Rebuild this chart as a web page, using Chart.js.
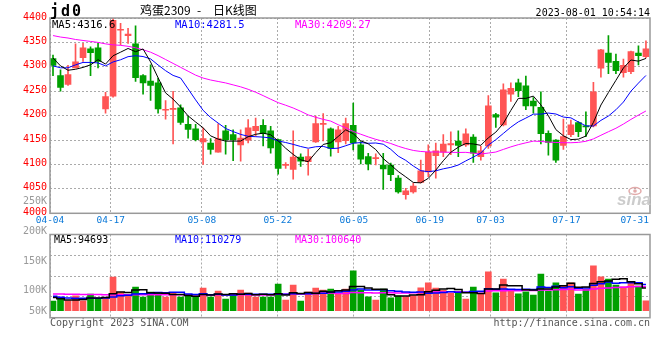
<!DOCTYPE html>
<html>
<head>
<meta charset="utf-8">
<script src="https://cdn.jsdelivr.net/npm/chart.js@4.4.0/dist/chart.umd.min.js"></script>
<style>
  html, body { margin: 0; padding: 0; background: #fff; }
  #wrap { position: relative; width: 660px; height: 360px; }
  canvas { position: absolute; left: 0; top: 0; }
</style>
</head>
<body>
<div id="wrap">
  <canvas id="kChart" width="660" height="360"></canvas>
  <canvas id="volChart" width="660" height="360"></canvas>
</div>
<script>
// ---------- data ----------
var dates = [
  '04-04','04-06','04-07','04-10','04-11','04-12','04-13','04-14','04-17','04-18',
  '04-19','04-20','04-21','04-24','04-25','04-26','04-27','04-28','05-04','05-05',
  '05-08','05-09','05-10','05-11','05-12','05-15','05-16','05-17','05-18','05-19',
  '05-22','05-23','05-24','05-25','05-26','05-29','05-30','05-31','06-01','06-02',
  '06-05','06-06','06-07','06-08','06-09','06-12','06-13','06-14','06-15','06-16',
  '06-19','06-20','06-21','06-26','06-27','06-28','06-29','06-30','07-03','07-04',
  '07-05','07-06','07-07','07-10','07-11','07-12','07-13','07-14','07-17','07-18',
  '07-19','07-20','07-21','07-24','07-25','07-26','07-27','07-28','07-31','08-01'
];
var tickLabels = ['04-04','04-17','05-08','05-22','06-05','06-19','07-03','07-17','07-31'];

var opens = [
  4317,4282,4264,4298,4319,4337,4339,4214,4240,4375, 4364,4347,4282,4271,4267,4211,4213,4216,4182,4173,
  4146,4144,4125,4169,4161,4140,4150,4169,4180,4169, 4151,4098,4090,4115,4106,4146,4182,4173,4146,4149,
  4180,4140,4116,4112,4099,4099,4072,4038,4044,4063, 4085,4118,4125,4140,4148,4140,4156,4116,4138,4202,
  4181,4244,4267,4261,4230,4217,4164,4150,4139,4161, 4186,4179,4179,4297,4328,4311,4288,4290,4328,4321
];
var highs = [
  4324,4294,4303,4347,4348,4341,4348,4248,4400,4389, 4379,4384,4284,4304,4277,4231,4250,4222,4199,4182,
  4175,4153,4183,4180,4171,4171,4192,4195,4192,4178, 4152,4104,4169,4122,4131,4199,4204,4175,4178,4195,
  4226,4147,4123,4122,4123,4103,4077,4051,4062,4109, 4140,4144,4161,4167,4169,4173,4161,4137,4241,4205,
  4265,4267,4275,4281,4237,4249,4169,4151,4193,4191, 4188,4208,4268,4336,4364,4326,4316,4332,4343,4353
];
var lows = [
  4282,4250,4262,4298,4311,4282,4298,4205,4238,4345, 4348,4270,4244,4231,4205,4193,4142,4182,4154,4148,
  4100,4121,4125,4121,4108,4107,4144,4158,4138,4123, 4080,4092,4070,4096,4078,4145,4148,4117,4124,4142,
  4130,4101,4089,4099,4049,4067,4041,4029,4041,4062, 4075,4072,4116,4120,4116,4137,4104,4109,4133,4176,
  4179,4229,4239,4212,4205,4142,4119,4104,4131,4157, 4157,4157,4177,4279,4286,4286,4279,4286,4304,4318
];
var closes = [
  4303,4258,4284,4310,4339,4329,4311,4239,4395,4376, 4367,4278,4267,4262,4214,4212,4214,4186,4172,4151,
  4153,4131,4153,4151,4151,4154,4175,4178,4163,4134, 4092,4099,4115,4107,4116,4184,4183,4133,4171,4184,
  4144,4111,4101,4113,4091,4079,4044,4046,4056,4087, 4125,4128,4142,4143,4139,4163,4123,4128,4220,4197,
  4253,4256,4251,4220,4220,4163,4145,4109,4157,4181, 4167,4177,4249,4335,4309,4292,4303,4331,4323,4337
];
var volumes = [
  40600,49000,42000,63000,42000,70000,47600,54600,141400,78400,
  61600,99400,57400,78400,74200,57400,72800,57400,60200,57400,
  95200,57400,82600,49000,70000,86800,74200,57400,57400,57400,
  112000,44800,107800,40600,78400,95200,86800,91000,70000,91000,
  168000,86800,58800,44800,91000,54600,61600,58800,63000,96600,
  117600,95200,85400,72800,72800,49000,99400,70000,163800,75600,
  133000,82600,71400,79800,65800,154000,82600,117600,105000,117600,
  70000,89600,189000,142800,133000,107800,100800,121800,103600,42000
];

// moving-average values before the window fills (earlier days are off the picture)
var ma5Head = [4318, 4302, 4293, 4295];
var ma10Head = [4302, 4298, 4298, 4304, 4309, 4309, 4308, 4302, 4310];
var ma30Head = [4364,4361,4359,4356,4354,4352,4350,4347,4345,4344,4342,4339,4335,4330,4323,
                4315,4307,4299,4291,4283,4277,4273,4270,4267,4263,4259,4254,4248,4241];
var vma5Head = [56000, 50000, 45000, 45000];
var vma10Head = [61000, 57000, 53000, 52000, 52000, 52000, 52000, 53000, 58000];
var vma30Head = [70000,70000,69000,69000,68000,68000,68000,67000,67000,67000,67000,67000,67000,67000,67000,
                 67000,67000,67000,67000,67000,67000,67000,67000,67000,67000,67000,67000,66500,66500];

var maLabels = ['MA5:4316.6', 'MA10:4281.5', 'MA30:4209.27'];
var volMaLabels = ['MA5:94693', 'MA10:110279', 'MA30:100640'];
var volAxisLabels = ['250K', '200K', '150K', '100K', '50K'];

// ---------- helpers ----------
var UP = '#ff5555', DOWN = '#00a000';
var MA_COLORS = ['#000000', '#0000ff', '#ff00ff'];
var N = dates.length;
var X_MIN = -0.4, X_MAX = N - 1 + 0.54;

function movingAvg(vals, n, head) {
    return vals.map(function(v, i) {
        if (i < n - 1) return head[i];
        var s = 0;
        for (var j = i - n + 1; j <= i; j++) s += vals[j];
        return s / n;
    });
}
function pts(arr) { return arr.map(function(v, i) { return {x: i, y: v}; }); }
// sina spreads its date grid over the full width, not the candle pitch
function gridVal(k) { return X_MIN + k * (X_MAX - X_MIN) / (N - 1); }

var candleColor = closes.map(function(c, i) { return c >= opens[i] ? UP : DOWN; });
var tickIdx = tickLabels.map(function(t) { return dates.indexOf(t); });
var gridTicks = tickIdx.slice(0, -1).map(gridVal);

var ma5 = movingAvg(closes, 5, ma5Head);
var ma10 = movingAvg(closes, 10, ma10Head);
var ma30 = movingAvg(closes, 30, ma30Head);
var vma5 = movingAvg(volumes, 5, vma5Head);
var vma10 = movingAvg(volumes, 10, vma10Head);
var vma30 = movingAvg(volumes, 30, vma30Head);

var MONO = '"DejaVu Sans Mono", monospace';

function xScale() {
    return {
        type: 'linear', min: X_MIN, max: X_MAX, offset: false,
        afterBuildTicks: function(s) { s.ticks = gridTicks.map(function(v) { return {value: v}; }); },
        ticks: { display: false },
        grid: { color: '#aaaaaa', drawTicks: false, offset: false },
        border: { display: false, dash: [2, 2] },
        afterFit: function(s) { s.height = 0; }
    };
}
function frame(ctx, a) {
    ctx.strokeStyle = '#999999';
    ctx.lineWidth = 1.5;
    ctx.strokeRect(a.left, a.top, a.right - a.left, a.bottom - a.top);
}
function lineSet(data, color, width, stepped) {
    return { type: 'line', data: pts(data), borderColor: color, borderWidth: width,
             pointRadius: 0, tension: 0, fill: false, stepped: stepped || false, order: 0 };
}

// ---------- K-line panel ----------
var kDecor = {
    id: 'kDecor',
    afterDraw: function(chart) {
        var ctx = chart.ctx, a = chart.chartArea, xs = chart.scales.x;
        ctx.save();
        frame(ctx, a);

        ctx.textBaseline = 'alphabetic';
        ctx.fillStyle = '#000';
        ctx.font = 'bold 15px ' + MONO;
        ctx.letterSpacing = '2px';
        ctx.fillText('jd0', 50, 16);
        ctx.letterSpacing = '0px';

        ctx.font = '12px "Noto Sans CJK SC"';
        ctx.fillText('鸡蛋2309', 140, 15);
        ctx.fillText('-', 197, 15);
        ctx.fillText('日K线图', 213, 15);

        ctx.font = '10px ' + MONO;
        ctx.textAlign = 'right';
        ctx.fillText('2023-08-01 10:54:14', 650, 16);

        ctx.textAlign = 'left';
        ctx.font = '10.5px ' + MONO;
        var maX = [52, 175, 295];
        maLabels.forEach(function(t, i) {
            ctx.fillStyle = MA_COLORS[i];
            ctx.fillText(t, maX[i], 28);
        });

        // date labels
        ctx.font = '9.5px ' + MONO;
        ctx.fillStyle = '#0a78d8';
        ctx.textAlign = 'center';
        ctx.textBaseline = 'middle';
        tickIdx.forEach(function(k, i) {
            var px = xs.getPixelForValue(gridVal(k));
            var w = ctx.measureText(tickLabels[i]).width;
            px = Math.min(px, 649 - w / 2);
            ctx.fillText(tickLabels[i], px, 221);
        });

        // volume axis labels (sina places them unevenly)
        var volY = [201, 231, 261, 290, 311];
        ctx.font = '10px ' + MONO;
        ctx.fillStyle = '#999999';
        ctx.textAlign = 'right';
        volAxisLabels.forEach(function(t, i) { ctx.fillText(t, 47, volY[i]); });

        // footer
        ctx.textBaseline = 'alphabetic';
        ctx.fillStyle = '#555555';
        ctx.textAlign = 'left';
        ctx.fillText('Copyright 2023 SINA.COM', 50, 326);
        ctx.textAlign = 'right';
        ctx.fillText('http://finance.sina.com.cn', 650, 326);

        // watermark
        ctx.strokeStyle = '#e2aaaa';
        ctx.lineWidth = 1.5;
        ctx.beginPath();
        ctx.ellipse(635, 191, 6, 3.5, 0, 0, Math.PI * 2);
        ctx.stroke();
        ctx.fillStyle = '#e2aaaa';
        ctx.beginPath();
        ctx.arc(635, 191, 1.8, 0, Math.PI * 2);
        ctx.fill();
        ctx.font = 'italic bold 17px "Liberation Sans"';
        ctx.fillStyle = '#cccccc';
        ctx.textAlign = 'left';
        ctx.fillText('sina', 617, 205);
        ctx.restore();
    }
};

new Chart(document.getElementById('kChart'), {
    type: 'bar',
    data: {
        datasets: [
            lineSet(ma5, MA_COLORS[0], 1),
            lineSet(ma10, MA_COLORS[1], 1),
            lineSet(ma30, MA_COLORS[2], 1),
            {
                label: 'body',
                data: opens.map(function(o, i) { return {x: i, y: [o, closes[i]]}; }),
                backgroundColor: candleColor, borderWidth: 0,
                barThickness: 6, minBarLength: 1, grouped: false, order: 1
            },
            {
                label: 'wick',
                data: lows.map(function(l, i) { return {x: i, y: [l, highs[i]]}; }),
                backgroundColor: candleColor, borderWidth: 0,
                barThickness: 1, grouped: false, order: 2
            }
        ]
    },
    options: {
        responsive: false, animation: false, events: [], devicePixelRatio: 1,
        layout: { padding: { left: 0, right: 10, top: 18, bottom: 146.7 } },
        plugins: { legend: { display: false }, tooltip: { enabled: false } },
        scales: {
            x: xScale(),
            y: {
                min: 4000, max: 4400,
                ticks: { stepSize: 50, color: '#ff0000', autoSkip: false, padding: 3, labelOffset: -1,
                         font: { family: 'DejaVu Sans Mono', size: 10 },
                         callback: function(v) { return String(v); } },
                grid: { color: '#aaaaaa', drawTicks: false },
                border: { display: false, dash: [2, 2] },
                afterFit: function(s) { s.width = 50; }
            }
        }
    },
    plugins: [kDecor]
});

// ---------- volume panel ----------
var V_MIN = -29400, V_MAX = 320200;
var volDecor = {
    id: 'volDecor',
    afterDraw: function(chart) {
        var ctx = chart.ctx, a = chart.chartArea;
        ctx.save();
        frame(ctx, a);
        ctx.font = '10px ' + MONO;
        ctx.textBaseline = 'alphabetic';
        var maX = [54, 175, 295];
        volMaLabels.forEach(function(t, i) {
            ctx.fillStyle = MA_COLORS[i];
            ctx.fillText(t, maX[i], 243);
        });
        ctx.restore();
    }
};

new Chart(document.getElementById('volChart'), {
    type: 'bar',
    data: {
        datasets: [
            lineSet(vma5, MA_COLORS[0], 1.5, 'middle'),
            lineSet(vma10, MA_COLORS[1], 1.5, 'middle'),
            lineSet(vma30, MA_COLORS[2], 1.5, 'middle'),
            {
                label: 'volume',
                data: pts(volumes),
                backgroundColor: candleColor, borderWidth: 0,
                barThickness: 6, grouped: false, order: 1
            }
        ]
    },
    options: {
        responsive: false, animation: false, events: [], devicePixelRatio: 1,
        layout: { padding: { left: 0, right: 10, top: 234.5, bottom: 42.3 } },
        plugins: { legend: { display: false }, tooltip: { enabled: false } },
        scales: {
            x: xScale(),
            y: {
                min: V_MIN, max: V_MAX,
                afterBuildTicks: function(s) {
                    s.ticks = [0.25, 0.5, 0.75].map(function(f) { return {value: V_MIN + (V_MAX - V_MIN) * f}; });
                },
                ticks: { display: false },
                grid: { color: '#aaaaaa', drawTicks: false },
                border: { display: false, dash: [2, 2] },
                afterFit: function(s) { s.width = 50; }
            }
        }
    },
    plugins: [volDecor]
});
</script>
</body>
</html>
